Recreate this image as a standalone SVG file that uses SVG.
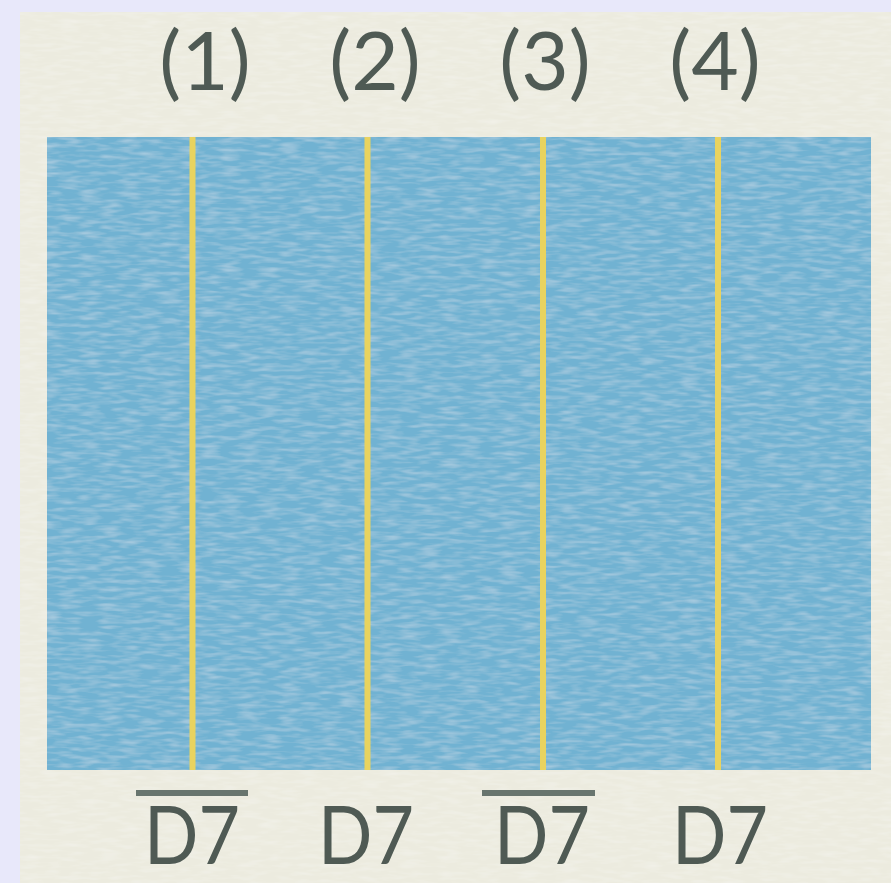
<svg xmlns="http://www.w3.org/2000/svg" width="891" height="883" viewBox="0 0 891 883">
<defs>
<style>
.lbl{font-family:Lato,"Open Sans","DejaVu Sans",sans-serif;font-size:82px;fill:#4f5a54;text-anchor:middle}
.div{stroke:#e9d35f;stroke-width:6}
.bar{stroke:#68756e;stroke-width:6}
</style>
<filter id="tex" x="0" y="0" width="100%" height="100%">
<feTurbulence type="fractalNoise" baseFrequency="0.05 0.25" numOctaves="2" seed="3" result="n"/>
<feColorMatrix in="n" type="matrix" values="0 0 0 0 1  0 0 0 0 1  0 0 0 0 1  0 0 0 -0.5 0.3" result="w"/>
<feComposite in="w" in2="SourceGraphic" operator="in" result="wm"/>
<feMerge><feMergeNode in="SourceGraphic"/><feMergeNode in="wm"/></feMerge>
</filter>
</defs>
<rect x="0" y="0" width="891" height="883" fill="#e8e8fa"/>
<rect id="panel" x="20" y="12" width="871" height="871" fill="#ecebdf" filter="url(#tex)"/>
<g id="board">
<rect x="47" y="137" width="824" height="633" fill="#71b2d2" filter="url(#tex)"/>
</g>
<g id="connectors">
<line class="div" x1="192.5" y1="137" x2="192.5" y2="770"/>
<line class="div" x1="367.5" y1="137" x2="367.5" y2="770"/>
<line class="div" x1="543" y1="137" x2="543" y2="770"/>
<line class="div" x1="718" y1="137" x2="718" y2="770"/>
</g>
<g id="top-labels">
<text class="lbl" x="205" y="90">(1)</text>
<text class="lbl" x="375" y="90">(2)</text>
<text class="lbl" x="545" y="90">(3)</text>
<text class="lbl" x="715" y="90">(4)</text>
</g>
<g id="bottom-labels">
<g id="l1"><line class="bar" x1="136" y1="793" x2="248" y2="793"/><text class="lbl" x="192" y="864" textLength="96" lengthAdjust="spacingAndGlyphs">D7</text></g>
<g id="l2"><text class="lbl" x="366" y="864" textLength="96" lengthAdjust="spacingAndGlyphs">D7</text></g>
<g id="l3"><line class="bar" x1="482" y1="793" x2="595" y2="793"/><text class="lbl" x="542" y="864" textLength="96" lengthAdjust="spacingAndGlyphs">D7</text></g>
<g id="l4"><text class="lbl" x="720" y="864" textLength="96" lengthAdjust="spacingAndGlyphs">D7</text></g>
</g>
</svg>
